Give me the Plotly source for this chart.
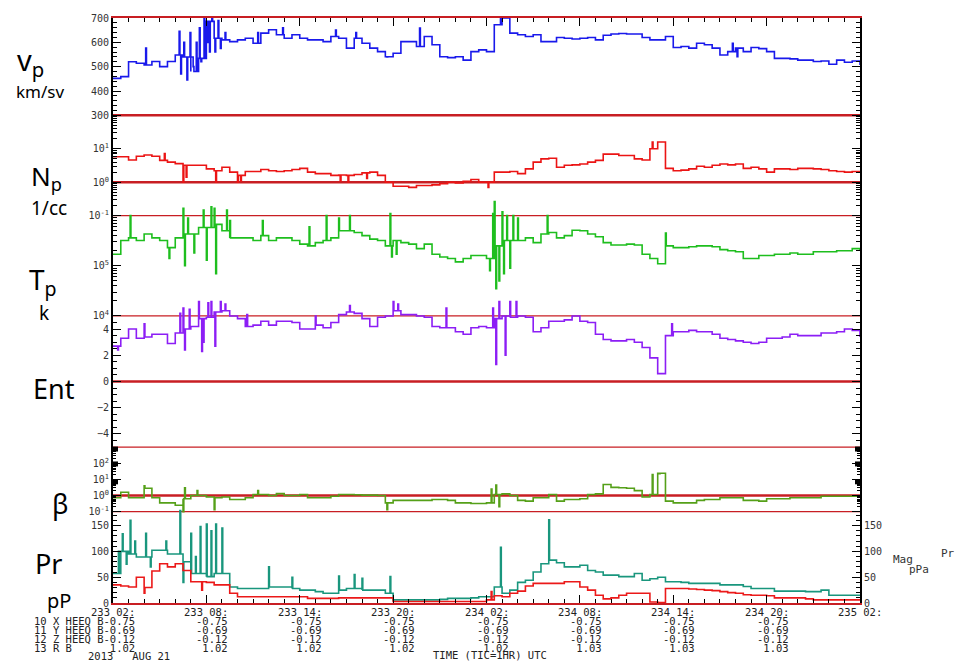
import numpy as np
import plotly.graph_objects as go

# ---------------- data (time in hours after 2013 day 233 02:00 UTC) ----------------
hours = np.arange(0, 48.01, 0.5)

vp = [452, 459, 520, 514, 507, 521, 500, 521, 548, 540,
      480, 534, 686, 617, 610, 603, 610, 617, 596, 638,
      652, 631, 617, 631, 617, 610, 610, 603, 624, 617,
      576, 617, 596, 576, 562, 541, 555, 603, 603, 583,
      624, 590, 541, 537, 541, 527, 562, 569, 562, 672,
      700, 638, 631, 624, 631, 603, 603, 620, 617, 614,
      617, 620, 610, 629, 634, 636, 634, 634, 620, 610,
      610, 624, 579, 583, 576, 596, 590, 576, 548, 562,
      576, 562, 579, 574, 562, 534, 534, 532, 527, 527,
      521, 523, 510, 527, 518, 523, 507]
vp_spk_t = [2.1, 4.25, 4.35, 4.55, 4.75, 4.95, 5.15, 5.35, 5.55, 5.65, 5.85, 6.05, 6.2,
            6.35, 6.55, 6.75, 6.9, 7.2, 9.3, 10.9, 14.3, 15.6, 17.6, 19.7, 24.9, 39.8, 40.1]
vp_spk_v = [576, 645, 470, 600, 445, 640, 500, 600, 660, 520, 705, 600, 560,
            700, 560, 690, 575, 640, 640, 660, 650, 640, 540, 659, 705, 596, 541]

np_dens = [5.8, 5.8, 4.6, 6.0, 6.5, 6.0, 4.5, 4.0, 3.6, 3.2,
           3.2, 3.2, 2.5, 2.2, 2.8, 2.0, 1.6, 2.1, 2.1, 2.4,
           2.2, 2.1, 2.2, 2.4, 2.6, 2.0, 1.8, 1.8, 1.6, 1.65,
           1.6, 1.7, 1.9, 2.0, 1.6, 1.0, 0.76, 0.76, 0.7, 0.8,
           0.8, 0.83, 0.9, 1.0, 0.95, 1.07, 1.2, 1.0, 1.0, 2.0,
           2.0, 2.1, 1.8, 2.5, 4.0, 5.0, 5.2, 2.8, 3.2, 3.3,
           3.5, 4.0, 4.5, 6.9, 6.9, 6.3, 6.3, 5.0, 4.6, 10,
           16, 2.6, 2.2, 2.3, 2.5, 3.0, 2.8, 3.2, 3.5, 3.3,
           3.5, 2.6, 2.8, 2.5, 2.0, 2.5, 2.5, 2.4, 2.6, 2.6,
           2.5, 2.4, 2.2, 2.1, 2.0, 2.1, 2.1]
np_spk_t = [3.3, 4.5, 4.7, 6.6, 8.0, 8.2, 14.6, 15.1, 16.3, 24.1, 34.65, 35.1]
np_spk_v = [7.2, 1.0, 1.4, 1.0, 1.0, 1.1, 1.1, 1.0, 1.3, 0.7, 16, 16]

tp_e5 = [1.7, 3.2, 3.6, 3.2, 4.3, 3.6, 3.2, 2.3, 3.6, 4.3,
         4.3, 5.8, 5.8, 6.7, 5.0, 3.6, 3.6, 3.6, 3.2, 4.0,
         3.2, 3.6, 3.6, 3.2, 2.7, 2.5, 2.9, 3.2, 3.6, 5.0,
         5.0, 4.6, 4.0, 3.4, 3.2, 2.5, 3.2, 2.9, 2.7, 2.2,
         2.7, 1.7, 1.5, 1.4, 1.2, 1.4, 1.6, 1.6, 1.4, 2.5,
         3.2, 3.2, 3.2, 3.6, 2.9, 4.3, 4.6, 3.6, 4.0, 5.1,
         5.0, 4.3, 3.8, 2.9, 2.6, 2.6, 2.7, 2.6, 1.7, 1.4,
         1.1, 2.5, 2.3, 2.3, 2.4, 2.5, 2.5, 2.4, 2.1, 2.0,
         1.9, 1.4, 1.4, 1.6, 1.6, 1.7, 1.7, 1.8, 1.7, 1.7,
         1.9, 1.9, 1.9, 2.0, 2.0, 2.2, 2.0]
tp_spk_t = [1.1, 3.6, 4.5, 4.6, 4.8, 5.2, 5.8, 6.0, 6.3, 6.5, 6.6, 7.3, 7.5, 9.6, 12.6,
            13.7, 14.5, 15.2, 17.8, 17.9, 18.2, 24.2, 24.4, 24.5, 24.6, 24.8, 25.0, 25.1,
            25.3, 25.5, 25.7, 26.0, 27.9, 35.5]
tp_spk_v = [1.0e6, 1.4e5, 1.4e6, 1.0e5, 9e5, 1.8e5, 1.3e6, 1.3e5, 1.5e6, 1.4e6, 7e4, 1.3e6,
            8e5, 8e5, 6e5, 1.0e6, 9e5, 1.0e6, 1.1e6, 1.5e5, 1.7e5, 8e4, 1.1e6, 1.9e6,
            3.5e4, 5e4, 1.2e6, 7e4, 1.0e6, 9e4, 1.0e6, 9e5, 1.0e6, 4.5e5]

ent = [2.7, 3.3, 4.0, 3.3, 3.4, 3.6, 3.6, 2.9, 3.7, 4.0,
       4.2, 4.8, 4.9, 5.3, 5.4, 5.0, 4.8, 4.2, 4.3, 4.6,
       4.3, 4.6, 4.6, 4.5, 4.0, 4.0, 4.3, 4.1, 4.5, 5.1,
       5.3, 5.2, 4.8, 4.2, 4.9, 5.0, 5.4, 5.1, 5.1, 5.0,
       4.9, 4.2, 4.1, 4.1, 3.8, 3.6, 4.1, 4.2, 4.1, 4.8,
       5.0, 4.9, 5.0, 4.9, 3.8, 4.1, 4.6, 4.6, 4.7, 5.0,
       4.6, 4.5, 3.6, 3.2, 3.1, 3.1, 3.2, 3.0, 2.6, 1.8,
       0.6, 3.5, 3.8, 3.8, 3.9, 3.8, 3.8, 3.6, 3.3, 3.2,
       3.1, 3.0, 2.9, 3.0, 3.3, 3.3, 3.4, 3.6, 3.5, 3.5,
       3.5, 3.7, 3.7, 3.8, 4.0, 3.9, 3.4]
ent_spk_t = [0.3, 2.0, 4.3, 4.5, 4.6, 4.9, 5.5, 5.7, 5.8, 6.1, 6.3, 6.55, 6.9, 7.2, 8.6,
             13.0, 15.2, 18.0, 18.3, 21.4, 24.4, 24.6, 24.8, 25.2, 25.5, 25.9, 35.9]
ent_spk_v = [2.4, 4.4, 5.2, 5.6, 2.4, 5.5, 6.1, 2.3, 3.0, 6.0, 6.1, 2.7, 6.1, 5.9, 5.1,
             5.0, 5.8, 6.1, 5.9, 5.6, 5.6, 1.3, 6.1, 2.0, 6.1, 6.1, 4.4]

beta = [0.72, 1.6, 0.72, 0.72, 2.8, 0.72, 0.35, 0.35, 0.25, 0.63,
        1.0, 1.0, 0.8, 0.72, 0.8, 0.56, 0.56, 0.72, 1.15, 1.15,
        1.0, 1.3, 1.0, 1.0, 1.15, 0.72, 0.72, 0.72, 0.9, 1.15,
        1.15, 1.1, 1.05, 1.05, 1.0, 0.35, 0.5, 0.5, 0.5, 0.5,
        0.5, 0.56, 0.56, 0.5, 0.35, 0.35, 0.32, 0.32, 0.35, 1.15,
        1.25, 1.0, 0.5, 0.45, 0.72, 0.72, 1.15, 0.45, 0.56, 0.56,
        0.63, 1.15, 1.25, 4.8, 3.2, 3.0, 2.8, 2.0, 0.8, 1.15,
        24, 0.45, 0.35, 0.35, 0.35, 0.5, 0.56, 0.56, 0.72, 0.72,
        0.72, 0.5, 0.5, 0.45, 0.63, 0.63, 0.63, 0.72, 0.72, 0.72,
        0.72, 0.9, 0.9, 0.9, 0.9, 0.9, 0.8]
beta_spk_t = [2.0, 4.5, 4.6, 5.4, 6.5, 9.3, 17.6, 24.3, 24.6, 24.8, 34.65, 35.1]
beta_spk_v = [4.0, 0.1, 3.0, 2.0, 0.13, 2.0, 0.13, 2.5, 4.5, 0.2, 20, 22]

pr_tot = [57, 100, 95, 89, 89, 102, 102, 95, 95, 80,
          57, 57, 51, 57, 57, 31, 28, 28, 28, 28,
          31, 31, 31, 28, 25, 25, 22, 19, 19, 25,
          28, 28, 25, 25, 25, 19, 6, 6, 6, 6,
          6, 6, 7, 9, 9, 9, 10, 12, 12, 31,
          19, 25, 40, 44, 60, 76, 83, 78, 70, 70,
          73, 63, 60, 54, 54, 51, 51, 57, 44, 47,
          50, 41, 41, 40, 38, 38, 38, 38, 35, 35,
          35, 32, 28, 28, 28, 23, 23, 23, 23, 22,
          22, 25, 15, 15, 15, 15, 15]
prt_spk_t = [0.35, 0.6, 0.85, 1.1, 1.4, 2.1, 2.4, 3.4, 4.3, 4.5, 5.0, 5.3, 5.6, 6.0, 6.3,
             6.6, 7.0, 10.0, 11.5, 14.5, 15.5, 16.0, 17.8, 24.9, 28.0]
prt_spk_v = [100, 134, 75, 160, 120, 135, 70, 120, 179, 40, 135, 90, 148, 153, 140,
             153, 145, 70, 50, 52, 55, 48, 51, 108, 161]

pr_mag = [35, 33, 31, 50, 30, 62, 76, 70, 76, 63,
          41, 41, 40, 35, 35, 19, 12, 12, 12, 12,
          12, 12, 12, 12, 12, 9, 9, 9, 9, 10,
          10, 10, 10, 10, 10, 10, 3, 3, 3, 3,
          3, 3, 3, 3, 3, 3, 3, 3, 6, 14,
          12, 19, 23, 33, 38, 38, 38, 38, 41, 41,
          31, 25, 15, 8, 10, 15, 19, 19, 19, 2,
          1, 28, 28, 28, 27, 26, 25, 24, 22, 20,
          19, 16, 15, 15, 14, 10, 10, 10, 10, 8,
          6, 6, 6, 6, 6, 6, 6]
prm_spk_t = [2.0, 5.7, 24.3]
prm_spk_v = [19, 25, 22]

# bottom annotation table
tick_hours = [0, 6, 12, 18, 24, 30, 36, 42, 48]
tick_labels = ['233 02:', '233 08:', '233 14:', '233 20:', '234 02:',
               '234 08:', '234 14:', '234 20:', '235 02:']
bx_heeq = [-0.75] * 8
by_heeq = [-0.69] * 8
bz_heeq = [-0.12] * 8
b_total = [1.02, 1.02, 1.02, 1.02, 1.02, 1.03, 1.03, 1.03]
row_names = ['10 X HEEQ B', '11 Y HEEQ B', '12 Z HEEQ B', '13 R B']

# ---------------- layout geometry ----------------
W, H = 956, 662
L, R, T, B = 113, 860, 14, 603
SPIKE_W = 0.05  # hours a single spike is held


def py(y):
    return (B - y) / (B - T)


def px(x):
    return (x - L) / (R - L)


def axis_range(a, b):
    (v1, y1), (v2, y2) = a, b
    p1, p2 = py(y1), py(y2)
    k = (v2 - v1) / (p2 - p1)
    return [v1 - p1 * k, v1 + (1 - p1) * k]


ranges = {
    'vp': axis_range((300, 112), (700, 14)),
    'np': axis_range((-1, 213), (2, 112)),
    'tp': axis_range((4, 314), (6, 213)),
    'ent': axis_range((-5, 446), (5, 314)),
    'beta': axis_range((-1, 511), (3, 446)),
    'pr': axis_range((0, 603), (175, 512)),
}


def to_paper(key, v, log=False):
    r = ranges[key]
    val = np.log10(v) if log else v
    return (val - r[0]) / (r[1] - r[0])


def merged(t, v, st, sv):
    """Base samples plus narrow spikes; after each spike the held sample resumes."""
    t = np.asarray(t, float)
    v = np.asarray(v, float)
    st = np.asarray(st, float)
    sv = np.asarray(sv, float)
    idx = np.clip(np.searchsorted(t, st, side='right') - 1, 0, len(t) - 1)
    back_t = st + SPIKE_W
    back_v = v[idx]
    tt = np.concatenate([t, st, back_t])
    vv = np.concatenate([v, sv, back_v])
    o = np.argsort(tt, kind='stable')
    return tt[o], vv[o]


fig = go.Figure()
series = [
    (hours, vp, vp_spk_t, vp_spk_v, 'rgb(25,25,235)', 'y'),
    (hours, np_dens, np_spk_t, np_spk_v, 'rgb(235,20,20)', 'y2'),
    (hours, np.array(tp_e5) * 1e5, tp_spk_t, tp_spk_v, 'rgb(30,190,30)', 'y3'),
    (hours, ent, ent_spk_t, ent_spk_v, 'rgb(140,30,245)', 'y4'),
    (hours, beta, beta_spk_t, beta_spk_v, 'rgb(85,160,25)', 'y5'),
    (hours, pr_tot, prt_spk_t, prt_spk_v, 'rgb(25,150,125)', 'y6'),
    (hours, pr_mag, prm_spk_t, prm_spk_v, 'rgb(235,25,25)', 'y7'),
]
for t, v, st, sv, col, ya in series:
    tt, vv = merged(t, v, st, sv)
    fig.add_trace(go.Scatter(x=tt, y=vv, mode='lines', yaxis=ya, xaxis='x',
                             line=dict(color=col, width=1.6, shape='hv'),
                             showlegend=False, hoverinfo='skip'))

TICKFONT = dict(family='DejaVu Sans Mono', size=10, color='#333')
base_ax = dict(domain=[0, 1], showgrid=False, zeroline=False, showline=True,
               linecolor='black', linewidth=2, mirror='ticks', ticks='inside',
               ticklen=8, tickcolor='black', tickwidth=1, tickfont=TICKFONT,
               anchor='x', tickmode='array', fixedrange=True)


def logminor(decs):
    return [k * 10.0 ** d for d in decs for k in range(2, 10)]


def sup(e):
    return '10<sup>%d</sup>' % e


axes = {
    'yaxis': dict(base_ax, type='linear', range=ranges['vp'],
                  tickvals=[300, 400, 500, 600, 700],
                  ticktext=['300', '400', '500', '600', '700'],
                  minor=dict(tickvals=[v for v in range(300, 701, 20) if v % 100],
                             ticks='inside', ticklen=4, tickcolor='black')),
    'yaxis2': dict(base_ax, type='log', range=ranges['np'], overlaying='y',
                   tickvals=[0.1, 1, 10], ticktext=[sup(-1), sup(0), sup(1)],
                   minor=dict(tickvals=logminor([-1, 0, 1]), ticks='inside',
                              ticklen=4, tickcolor='black')),
    'yaxis3': dict(base_ax, type='log', range=ranges['tp'], overlaying='y',
                   tickvals=[1e4, 1e5], ticktext=[sup(4), sup(5)],
                   minor=dict(tickvals=logminor([4, 5]), ticks='inside',
                              ticklen=4, tickcolor='black')),
    'yaxis4': dict(base_ax, type='linear', range=ranges['ent'], overlaying='y',
                   tickvals=[-4, -2, 0, 2, 4], ticktext=['\u22124', '\u22122', '0', '2', '4'],
                   minor=dict(tickvals=[v / 2 for v in range(-10, 11) if v % 4],
                              ticks='inside', ticklen=4, tickcolor='black')),
    'yaxis5': dict(base_ax, type='log', range=ranges['beta'], overlaying='y',
                   tickvals=[0.1, 1, 10, 100],
                   ticktext=[sup(-1), sup(0), sup(1), sup(2)],
                   minor=dict(tickvals=logminor([-1, 0, 1, 2]), ticks='inside',
                              ticklen=3, tickcolor='black')),
    'yaxis6': dict(base_ax, type='linear', range=ranges['pr'], overlaying='y',
                   tickvals=[0, 50, 100, 150], ticktext=['0', '50', '100', '150'],
                   minor=dict(tickvals=[v for v in range(0, 176, 10) if v % 50],
                              ticks='inside', ticklen=4, tickcolor='black')),
    'yaxis7': dict(base_ax, type='linear', range=ranges['pr'], overlaying='y',
                   side='right', mirror=False,
                   tickvals=[0, 50, 100, 150], ticktext=['0', '50', '100', '150'],
                   minor=dict(tickvals=[v for v in range(0, 176, 10) if v % 50],
                              ticks='inside', ticklen=4, tickcolor='black')),
}

RED = 'rgb(200,30,35)'
shapes = []
hlines = [('vp', 300, False, 2.5), ('np', 1, True, 2.5), ('np', 0.1, True, 1.2),
          ('tp', 1e4, True, 1.2), ('ent', 0, False, 2.5), ('ent', -5, False, 1.2),
          ('beta', 1, True, 2.5), ('beta', 0.1, True, 1.2)]
for key, val, lg, w in hlines:
    yp = to_paper(key, val, lg)
    shapes.append(dict(type='line', xref='paper', yref='paper', x0=0, x1=1,
                       y0=yp, y1=yp, line=dict(color=RED, width=w), layer='below'))
# small black markers on the beta axis
for yc in (448, 463, 481):
    for xa, xb in ((113, 118), (855, 860)):
        shapes.append(dict(type='rect', xref='paper', yref='paper',
                           x0=px(xa), x1=px(xb), y0=py(yc + 2.5), y1=py(yc - 2.5),
                           fillcolor='black', line=dict(width=0)))

LBL = 'Noto Sans'
MONO = 'DejaVu Sans Mono'
annotations = []


def ann(text, x, y, size, family=LBL, xanchor='left', yanchor='middle', color='black'):
    annotations.append(dict(text=text, xref='paper', yref='paper', x=px(x), y=py(y),
                            xanchor=xanchor, yanchor=yanchor, showarrow=False,
                            font=dict(size=size, family=family, color=color)))


ann('v<sub>p</sub>', 15, 58, 29)
ann('km/sv', 14, 88, 17)
ann('N<sub>p</sub>', 29, 174, 26)
ann('1/cc', 29, 205, 19)
ann('T<sub>p</sub>', 27, 279, 28)
ann('k', 37, 311, 19)
ann('Ent', 31, 387, 27)
ann('\u03b2', 50, 503, 27)
ann('Pr', 33, 563, 27)
ann('pP', 45, 600, 20)

ann('Mag', 891, 559, 11, family=MONO, color='#333')
ann('Pr', 939, 553, 11, family=MONO, color='#333')
ann('pPa', 907, 569, 11, family=MONO, color='#333')

NB = '\u00a0'
BFONT = dict(family=MONO, size=10.5, color='#222')
for h, lab in zip(tick_hours, tick_labels):
    annotations.append(dict(text=lab.replace(' ', NB), xref='x', yref='paper', x=h,
                            y=py(612), xanchor='center', yanchor='middle',
                            showarrow=False, font=BFONT))
rows = [bx_heeq, by_heeq, bz_heeq, b_total]
row_y = [621.5, 630.5, 639.5, 648]
for ri, (vals, yy) in enumerate(zip(rows, row_y)):
    for ci, v in enumerate(vals):
        s = ('%.2f' % v).rjust(5)
        if ci == 0:
            s = row_names[ri].ljust(11) + s
        annotations.append(dict(text=s.replace(' ', NB), xref='x', yref='paper',
                                x=tick_hours[ci], xshift=24, y=py(yy),
                                xanchor='right', yanchor='middle', showarrow=False,
                                font=BFONT))
annotations.append(dict(text='2013' + NB * 3 + 'AUG' + NB + '21', xref='paper', yref='paper',
                        x=px(86), y=py(656), xanchor='left', yanchor='middle',
                        showarrow=False, font=BFONT))
annotations.append(dict(text='TIME' + NB + '(TIC=1HR)' + NB + 'UTC', xref='paper',
                        yref='paper', x=px(490), y=py(655), xanchor='center',
                        yanchor='middle', showarrow=False, font=BFONT))

fig.update_layout(
    width=W, height=H, margin=dict(l=L, r=W - R, t=T, b=H - B),
    paper_bgcolor='white', plot_bgcolor='white', showlegend=False,
    xaxis=dict(domain=[0, 1], range=[0, 48], showgrid=False, zeroline=False,
               showline=True, linecolor=RED, linewidth=1.5, mirror='ticks',
               ticks='inside', ticklen=8, tickcolor='black', tickmode='array',
               tickvals=tick_hours, showticklabels=False, fixedrange=True,
               minor=dict(tickvals=[h for h in range(49) if h % 6],
                          ticks='inside', ticklen=4, tickcolor='black')),
    shapes=shapes, annotations=annotations, **axes)

fig.write_html('out.html')
